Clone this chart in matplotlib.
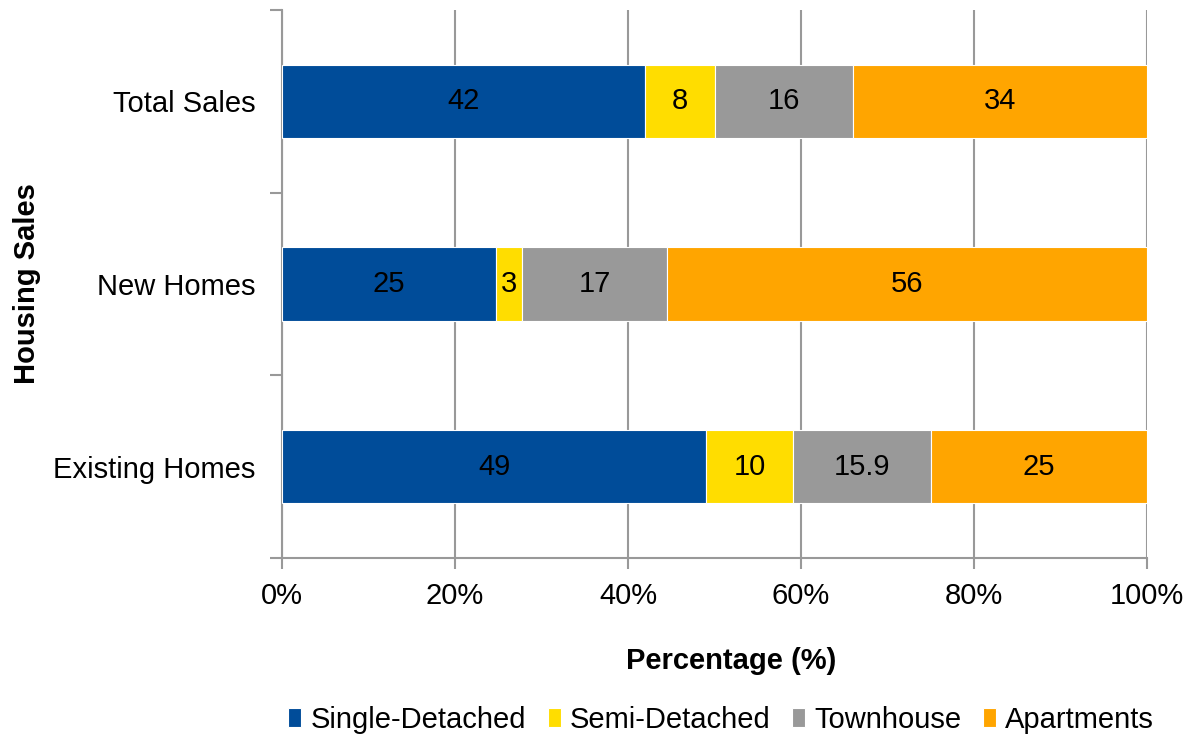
import matplotlib
matplotlib.use("Agg")
import matplotlib.pyplot as plt
import numpy as np

categories = ["Existing Homes", "New Homes", "Total Sales"]
series_names = ["Single-Detached", "Semi-Detached", "Townhouse", "Apartments"]
single = [49, 25, 42]
semi = [10, 3, 8]
town = [15.9, 17, 16]
apts = [25, 56, 34]
colors = ["#004C99", "#FFDD00", "#999999", "#FFA500"]
x_ticks = [0, 20, 40, 60, 80, 100]

plt.rcParams['font.family'] = ['Liberation Sans', 'DejaVu Sans']
FS = 21

fig = plt.figure(figsize=(11.89, 7.37), dpi=100)
ax = fig.add_axes([282/1189, 1-558/737, (1147-282)/1189, (558-10)/737])

data = np.array([single, semi, town, apts], dtype=float)
totals = data.sum(axis=0)
pct = data / totals * 100
y = np.arange(len(categories))
left = np.zeros(len(categories))
for i, name in enumerate(series_names):
    ax.barh(y, pct[i], left=left, height=0.4, color=colors[i],
            edgecolor="white", linewidth=0.8, label=name, zorder=3)
    for j in range(len(categories)):
        ax.text(left[j] + pct[i][j] / 2, y[j], f"{data[i][j]:g}",
                ha="center", va="center", fontsize=FS, color="black", zorder=4)
    left += pct[i]

ax.set_xlim(0, 100)
ax.set_ylim(-0.5, 2.5)
ax.set_xticks(x_ticks)
ax.set_xticklabels([f"{t}%" for t in x_ticks], fontsize=FS)
ax.set_yticks(y)
ax.set_yticklabels(categories, fontsize=FS)
ax.set_yticks([-0.5, 0.5, 1.5, 2.5], minor=True)
ax.tick_params(axis='y', which='major', length=0, pad=19)
ax.tick_params(axis='y', which='minor', length=9, width=1.5, color="#999999")
ax.tick_params(axis='x', which='major', length=8, width=1.5, color="#999999", pad=9)
ax.grid(axis='x', color="#999999", linewidth=1.5, zorder=0)
for s in ["top", "right"]:
    ax.spines[s].set_visible(False)
for s in ["left", "bottom"]:
    ax.spines[s].set_color("#999999")
    ax.spines[s].set_linewidth(1.5)

ax.set_xlabel("Percentage (%)", fontsize=FS, fontweight="bold")
ax.xaxis.set_label_coords((731-282)/865, (558-647)/548)
ax.set_ylabel("Housing Sales", fontsize=FS, fontweight="bold")
ax.yaxis.set_label_coords((41-282)/865, 0.5)

handles, labels = ax.get_legend_handles_labels()
fig.legend(handles, labels, loc="center", bbox_to_anchor=(721/1189, 1-720/737),
           ncol=4, frameon=False, fontsize=FS, handlelength=0.45, handleheight=0.6,
           handletextpad=0.3, columnspacing=0.75)

fig.savefig("out.png", dpi=100)
